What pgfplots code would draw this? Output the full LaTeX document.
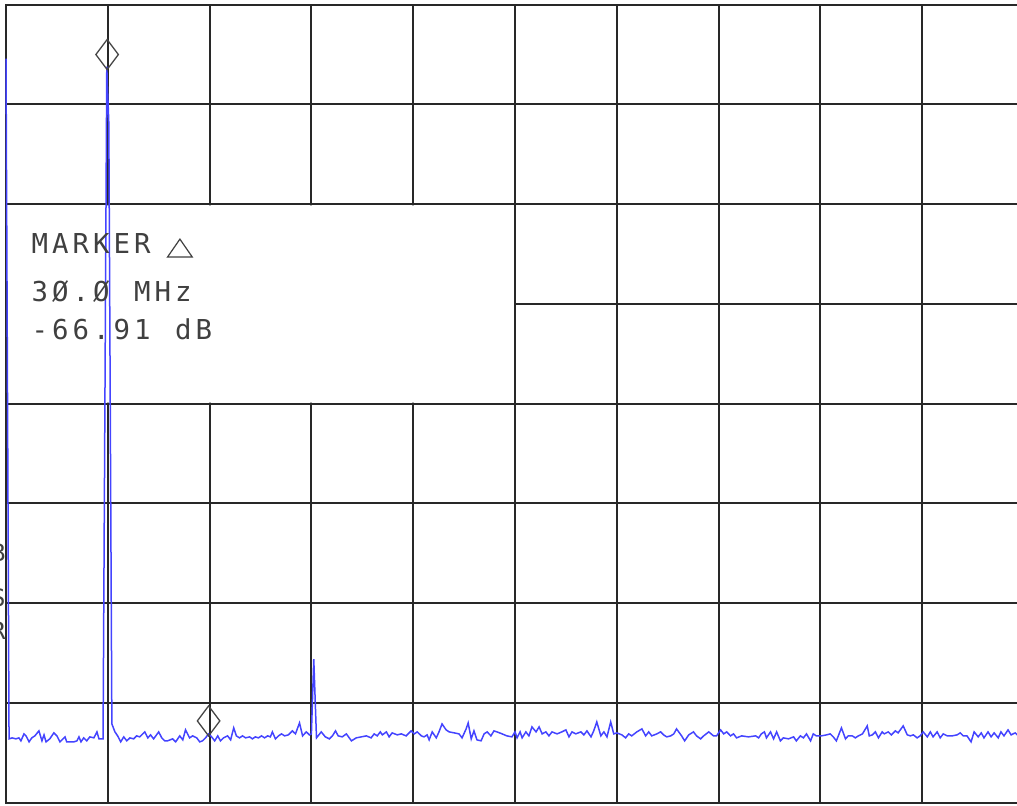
\documentclass[border=0pt]{standalone}
\usepackage{pgfplots}
\pgfplotsset{compat=1.18}
\usepackage{fontspec}
\newfontfamily\hpfont{DejaVu Sans Mono}
\definecolor{trace}{RGB}{68,68,255}
\definecolor{gridc}{RGB}{40,40,40}
\definecolor{mk}{RGB}{70,70,70}
\newcommand\hp{\hpfont\fontsize{13.7pt}{13.7pt}\selectfont}
\newcommand\hps{\hpfont\fontsize{12pt}{12pt}\selectfont}
\newcommand\cell[1]{\makebox[10.25pt][c]{#1}}

\begin{document}
\begin{tikzpicture}
\begin{axis}[
    name=ax,
    scale only axis,
    width=509pt, height=399pt,
    xmin=0, xmax=300, ymin=-80, ymax=0,
    xtick={0,30,...,300}, ytick={-80,-70,...,0},
    xmajorticks=false, ymajorticks=false,
    grid=major,
    grid style={gridc, line width=1pt},
    axis line style={gridc, line width=1pt},
    clip=false,
  ]
  % annotation box hides the grid behind the marker readout
  \addplot[draw=none, fill=white] coordinates {
      (0.3,-20.11) (149.7,-20.11) (149.7,-39.89) (0.3,-39.89) (0.3,-20.11)};

  % spectrum trace, MHz vs dB
  \addplot[trace, line width=0.75pt] coordinates {
    (0,-5.4) (0.9,-73.6) (1.8,-73.5) (2.9,-73.6) (3.8,-73.5) (4.4,-73.8) (5.3,-73.1)
    (5.9,-73.3) (6.8,-73.9) (7.6,-73.5) (8.5,-73.3) (9.7,-72.8) (10.6,-73.8) (11.2,-73.2)
    (11.8,-73.9) (12.9,-73.6) (14.1,-73.0) (15.0,-73.3) (15.9,-73.9) (16.8,-73.6) (17.4,-73.4)
    (17.9,-73.9) (19.1,-73.9) (20.0,-73.9) (20.9,-73.8) (21.5,-73.4) (22.1,-73.9) (22.9,-73.5)
    (23.8,-73.8) (24.7,-73.4) (25.9,-73.5) (26.8,-72.9) (27.4,-73.6) (28.6,-73.6)
    (29.7,-6.2) (30.3,-11.9) (31.2,-72.1)
    (32.1,-72.9) (32.9,-73.3) (33.8,-73.9) (34.7,-73.4) (35.6,-73.8) (36.5,-73.5) (37.6,-73.6)
    (38.5,-73.3) (39.4,-73.4) (40.9,-72.9) (41.8,-73.5) (42.6,-73.2) (43.5,-73.6) (45.0,-72.9)
    (45.9,-73.5) (46.8,-73.8) (47.6,-73.8) (49.1,-73.6) (50.0,-73.9) (51.2,-73.3) (52.1,-73.7)
    (52.9,-72.7) (54.1,-73.5) (55.0,-73.3) (56.2,-73.5) (57.1,-73.9) (57.9,-73.8) (58.8,-73.5)
    (59.7,-73.1) (60.6,-73.4) (61.5,-73.8) (62.4,-73.3) (63.2,-73.8) (64.1,-73.5) (65.3,-73.3)
    (66.2,-73.7) (67.1,-72.5) (67.9,-73.3) (68.8,-73.5) (69.7,-73.3) (70.6,-73.5) (71.8,-73.4)
    (72.6,-73.6) (73.5,-73.4) (74.4,-73.5) (75.3,-73.3) (76.2,-73.5) (77.1,-73.3) (77.9,-73.4)
    (78.5,-72.9) (79.4,-73.6) (80.3,-73.3) (81.2,-73.1) (82.1,-73.3) (83.2,-73.2) (84.4,-72.8)
    (85.3,-73.1) (86.5,-72.0) (87.4,-73.3) (88.5,-72.9) (89.4,-73.2) (90.0,-73.1)
    (90.7,-65.6) (91.5,-73.5)
    (92.9,-72.9) (94.1,-73.4) (95.3,-73.6) (96.2,-73.3) (97.1,-72.8) (97.9,-73.3) (99.1,-73.4)
    (100.3,-73.1) (101.8,-73.8) (103.2,-73.5) (104.7,-73.4) (106.2,-73.3) (107.6,-73.5)
    (108.5,-73.1) (109.4,-73.3) (110.3,-72.9) (110.9,-73.2) (112.1,-72.9) (112.9,-73.4)
    (113.8,-73.0) (115.3,-73.2) (116.5,-73.1) (117.9,-73.3) (119.4,-72.8) (120.3,-73.1)
    (121.2,-72.9) (122.4,-73.3) (123.2,-73.4) (124.1,-73.2) (124.7,-73.7) (125.6,-72.9)
    (126.8,-73.5) (127.6,-72.9) (128.5,-72.1) (129.7,-72.7) (130.6,-72.9) (132.1,-73.0)
    (133.5,-73.1) (134.4,-73.5) (135.6,-72.6) (136.2,-72.0) (137.1,-73.6) (137.9,-72.8)
    (138.8,-73.7) (140.0,-73.8) (140.9,-73.1) (141.8,-72.9) (142.9,-73.3) (143.8,-72.8)
    (144.7,-72.9) (146.2,-73.1) (147.6,-73.3) (149.1,-73.4) (150.0,-72.9) (150.6,-73.5)
    (151.5,-72.9) (152.1,-73.5) (153.2,-72.9) (154.1,-73.3) (155.0,-72.4) (156.2,-72.9)
    (157.1,-72.4) (158.0,-73.1) (159.1,-72.9) (160.0,-73.3) (160.9,-72.9) (162.4,-73.1)
    (163.8,-72.9) (165.0,-72.7) (165.9,-73.4) (166.8,-72.9) (167.9,-73.1) (169.4,-72.9)
    (170.3,-73.2) (171.2,-72.8) (172.4,-73.4) (173.2,-72.8) (174.1,-71.9) (175.3,-73.3)
    (176.2,-72.9) (177.1,-73.4) (178.2,-71.9) (179.1,-73.1) (180.0,-73.0) (181.5,-73.2)
    (182.6,-73.5) (183.5,-73.1) (184.4,-73.3) (185.9,-72.9) (187.4,-72.6) (188.5,-73.3)
    (189.4,-72.9) (190.3,-73.3) (191.8,-73.1) (192.9,-72.9) (193.8,-73.2) (194.7,-73.4)
    (195.9,-73.3) (196.8,-73.1) (197.6,-72.6) (199.1,-73.3) (200.0,-73.8) (201.2,-73.2)
    (202.6,-72.9) (203.5,-73.3) (204.7,-73.6) (205.6,-73.3) (207.1,-72.9) (208.5,-73.3)
    (209.4,-73.3) (210.6,-72.7) (211.5,-73.1) (212.4,-72.9) (213.5,-73.3) (214.4,-73.1)
    (215.3,-73.5) (216.8,-73.3) (218.8,-73.4) (220.9,-73.3) (221.8,-73.5) (222.6,-73.1)
    (223.5,-72.9) (224.1,-73.5) (225.3,-72.9) (226.2,-73.6) (227.1,-72.9) (228.2,-73.8)
    (229.1,-73.5) (230.6,-73.6) (232.1,-73.4) (232.9,-73.8) (234.1,-73.3) (235.0,-73.5)
    (235.9,-73.1) (237.1,-73.8) (237.9,-73.1) (238.8,-73.3) (240.3,-73.3) (241.8,-73.2)
    (242.9,-73.1) (243.8,-73.4) (244.7,-73.8) (246.2,-72.5) (247.4,-73.6) (248.2,-73.3)
    (249.4,-73.3) (250.3,-73.5) (251.2,-73.3) (252.4,-73.1) (253.8,-72.3) (254.4,-73.3)
    (255.3,-73.2) (256.2,-72.9) (257.1,-73.5) (258.2,-72.9) (258.8,-73.1) (260.0,-72.9)
    (260.9,-73.2) (262.1,-72.8) (262.9,-73.0) (264.4,-72.3) (265.6,-73.2) (266.5,-73.3)
    (267.4,-73.2) (268.5,-73.5) (269.4,-73.3) (270.3,-72.9) (271.5,-73.4) (272.4,-72.9)
    (273.2,-73.4) (274.4,-72.9) (275.3,-73.5) (276.2,-73.1) (277.4,-73.3) (278.8,-73.3)
    (280.3,-73.2) (281.2,-73.0) (282.1,-73.3) (283.2,-73.3) (284.4,-73.9) (285.3,-72.9)
    (286.5,-73.4) (287.4,-73.0) (288.2,-73.5) (289.4,-72.9) (290.3,-73.4) (291.2,-73.0)
    (292.4,-73.5) (293.2,-72.9) (294.1,-73.3) (295.3,-72.7) (296.2,-73.2) (297.4,-73.0)
    (298.3,-73.3) (299.2,-73.1) (300,-73.3)
  };

  % the two markers (diamond sits on top of the trace point)
  \addplot[only marks, mark=diamond, mark size=7.5pt,
           mark options={draw=mk, line width=0.65pt}]
    coordinates {(29.8,-5.0) (59.7,-71.8)};

  % marker readout
  \node[anchor=base west, inner sep=0pt, font=\hp, text=black!75]
    at (axis cs:6.85,-24.9)
    {\cell{M}\cell{A}\cell{R}\cell{K}\cell{E}\cell{R}};
  \draw[black!75, line width=0.6pt]
    (axis cs:47.6,-25.3) -- (axis cs:54.9,-25.3) -- (axis cs:51.25,-23.5) -- cycle;
  \node[anchor=base west, inner sep=0pt, font=\hp, text=black!75]
    at (axis cs:6.85,-29.8)
    {\cell{3}\cell{Ø}\cell{.}\cell{Ø}\cell{}\cell{M}\cell{H}\cell{z}};
  \node[anchor=base west, inner sep=0pt, font=\hp, text=black!75]
    at (axis cs:6.85,-33.6)
    {\cell{-}\cell{6}\cell{6}\cell{.}\cell{9}\cell{1}\cell{}\cell{d}\cell{B}};

  % letters cut off at the left edge of the screen
  \node[anchor=east, inner sep=0pt, font=\hps, text=black!75] at (axis cs:0,-54.9) {B};
  \node[anchor=east, inner sep=0pt, font=\hps, text=black!75] at (axis cs:0,-59.5) {S};
  \node[anchor=east, inner sep=0pt, font=\hps, text=black!75] at (axis cs:0,-62.8) {R};
\end{axis}
\pgfresetboundingbox
\useasboundingbox ([xshift=-3pt,yshift=-1.15pt]ax.south west)
  rectangle ([xshift=-3.5pt,yshift=2.35pt]ax.north east);
\end{tikzpicture}
\end{document}
